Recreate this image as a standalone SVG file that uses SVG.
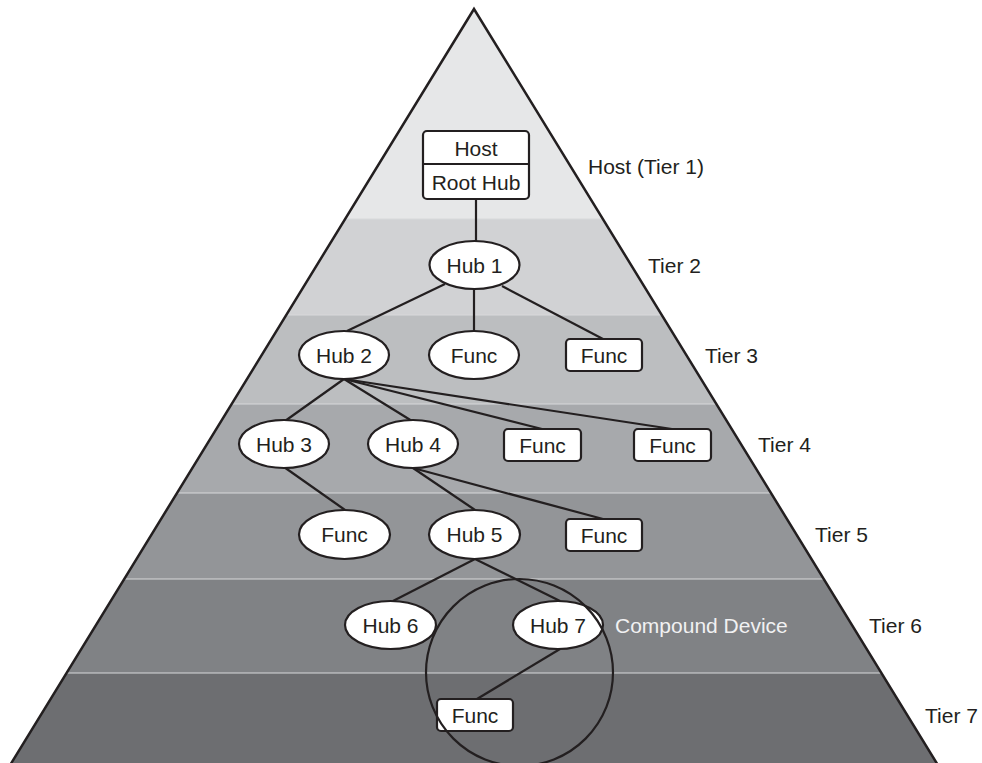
<svg xmlns="http://www.w3.org/2000/svg" width="982" height="763" viewBox="0 0 982 763">
<style>
text{font-family:"Liberation Sans",Arial,sans-serif;font-size:21px;fill:#231f20;text-anchor:middle;dominant-baseline:central}
.lbl{text-anchor:start}
.node{fill:#fff;stroke:#231f20;stroke-width:2.2}
.conn line{stroke:#231f20;stroke-width:2.2}
.sep{stroke:#d8d9db;stroke-width:1}
</style>
<defs>
<clipPath id="tri"><polygon points="474,9 944,775 4,775"/></clipPath>
</defs>
<g id="pyramid">
<g clip-path="url(#tri)">
<rect x="0" y="0" width="982" height="219" fill="#e6e7e8"/>
<rect x="0" y="219" width="982" height="96" fill="#d1d2d4"/>
<rect x="0" y="315" width="982" height="89" fill="#bcbec0"/>
<rect x="0" y="404" width="982" height="89" fill="#a7a9ac"/>
<rect x="0" y="493" width="982" height="86" fill="#939598"/>
<rect x="0" y="579" width="982" height="94" fill="#808285"/>
<rect x="0" y="673" width="982" height="100" fill="#6d6e71"/>
<line class="sep" x1="0" y1="219" x2="982" y2="219"/>
<line class="sep" x1="0" y1="315" x2="982" y2="315"/>
<line class="sep" x1="0" y1="404" x2="982" y2="404"/>
<line class="sep" x1="0" y1="493" x2="982" y2="493"/>
<line class="sep" x1="0" y1="579" x2="982" y2="579"/>
<line class="sep" x1="0" y1="673" x2="982" y2="673"/>
</g>
<polygon points="474,9 944,775 4,775" fill="none" stroke="#231f20" stroke-width="2.5" stroke-linejoin="miter"/>
</g>
<g id="tier-labels">
<text class="lbl" x="588" y="166">Host (Tier 1)</text>
<text class="lbl" x="648" y="265">Tier 2</text>
<text class="lbl" x="705" y="355">Tier 3</text>
<text class="lbl" x="758" y="444">Tier 4</text>
<text class="lbl" x="815" y="534">Tier 5</text>
<text class="lbl" x="869" y="625">Tier 6</text>
<text class="lbl" x="925" y="715">Tier 7</text>
</g>
<g class="conn" id="connectors">
<line x1="476" y1="199" x2="476" y2="241"/>
<line x1="445" y1="284" x2="347" y2="331"/>
<line x1="474" y1="289" x2="474" y2="331"/>
<line x1="502" y1="286" x2="603" y2="339"/>
<line x1="344" y1="379" x2="285" y2="421"/>
<line x1="344" y1="379" x2="412" y2="421"/>
<line x1="344" y1="379" x2="542" y2="429"/>
<line x1="344" y1="379" x2="672" y2="429"/>
<line x1="284" y1="467" x2="345" y2="510"/>
<line x1="413" y1="468" x2="475" y2="510"/>
<line x1="413" y1="468" x2="603" y2="519"/>
<line x1="475" y1="559" x2="393" y2="601"/>
<line x1="475" y1="559" x2="560" y2="601"/>
<line x1="560" y1="649" x2="477" y2="699"/>
</g>
<g id="host">
<rect class="node" x="423" y="131" width="106" height="68" rx="4"/>
<line x1="423" y1="164" x2="529" y2="164" stroke="#231f20" stroke-width="2.2"/>
<text x="476" y="148">Host</text>
<text x="476" y="182">Root Hub</text>
</g>
<g id="hub1"><ellipse class="node" cx="474.5" cy="265" rx="45" ry="24"/><text x="474.5" y="265">Hub 1</text></g>
<g id="hub2"><ellipse class="node" cx="344" cy="355" rx="45" ry="24"/><text x="344" y="355">Hub 2</text></g>
<g id="func-t3a"><ellipse class="node" cx="474" cy="355" rx="45" ry="24"/><text x="474" y="355">Func</text></g>
<g id="func-t3b"><rect class="node" x="566" y="339" width="76" height="32" rx="4"/><text x="604" y="355">Func</text></g>
<g id="hub3"><ellipse class="node" cx="284" cy="444" rx="45" ry="24"/><text x="284" y="444">Hub 3</text></g>
<g id="hub4"><ellipse class="node" cx="413" cy="444" rx="45" ry="24"/><text x="413" y="444">Hub 4</text></g>
<g id="func-t4a"><rect class="node" x="504" y="429" width="77" height="32" rx="4"/><text x="542.5" y="445">Func</text></g>
<g id="func-t4b"><rect class="node" x="634" y="429" width="77" height="32" rx="4"/><text x="672.5" y="445">Func</text></g>
<g id="func-t5a"><ellipse class="node" cx="344.5" cy="534.5" rx="45.5" ry="24.5"/><text x="344.5" y="534.5">Func</text></g>
<g id="hub5"><ellipse class="node" cx="474.5" cy="534.5" rx="45.5" ry="24.5"/><text x="474.5" y="534.5">Hub 5</text></g>
<g id="func-t5b"><rect class="node" x="566" y="519" width="76" height="32" rx="4"/><text x="604" y="535">Func</text></g>
<g id="hub6"><ellipse class="node" cx="390.5" cy="625" rx="45.5" ry="24"/><text x="390.5" y="625">Hub 6</text></g>
<g id="hub7"><ellipse class="node" cx="558" cy="625" rx="45" ry="24"/><text x="558" y="625">Hub 7</text></g>
<g id="func-t7"><rect class="node" x="437" y="699" width="76" height="32" rx="4"/><text x="475" y="715">Func</text></g>
<g id="compound-device">
<circle cx="519.5" cy="672.5" r="93.5" fill="none" stroke="#231f20" stroke-width="2.2"/>
<text class="lbl" x="615" y="625" style="fill:#f1f1f2">Compound Device</text>
</g>
</svg>
